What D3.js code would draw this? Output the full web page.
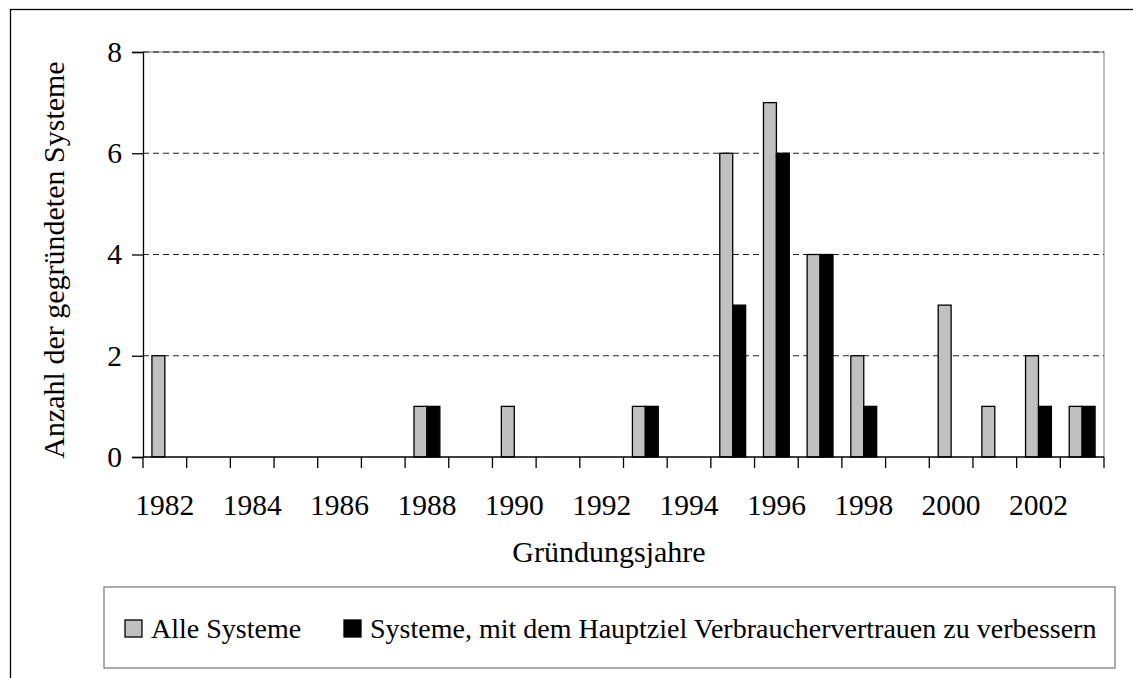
<!DOCTYPE HTML>
<html lang="de">
	<head>
		<title>Gründungsjahre</title>
		<style type="text/css">
			body {
				margin: 0;
				background-color: rgb(255, 255, 255);
			}
			svg text {
				font-family: "Liberation Serif", "Times New Roman", serif;
				fill: black;
			}
		</style>
		<script src="https://d3js.org/d3.v7.min.js"></script>
	</head>
	<body>
		<div id="display"></div>
		<script>

			// data
			var years = ["1982","1983","1984","1985","1986","1987","1988","1989","1990","1991","1992",
			             "1993","1994","1995","1996","1997","1998","1999","2000","2001","2002","2003"];
			var alleSysteme = [2,0,0,0,0,0,1,0,1,0,0,1,0,6,7,4,2,0,3,1,2,1];
			var hauptziel   = [0,0,0,0,0,0,1,0,0,0,0,1,0,3,6,4,1,0,0,0,1,1];
			var seriesNames = ["Alle Systeme", "Systeme, mit dem Hauptziel Verbrauchervertrauen zu verbessern"];
			var seriesColors = ["#c0c0c0", "#000000"];
			var yTicks = [0, 2, 4, 6, 8];
			var xLabels = ["1982","1984","1986","1988","1990","1992","1994","1996","1998","2000","2002"];

			var width = 1133, height = 678;
			var plot = {left: 143, top: 52, right: 1104, bottom: 457};
			var tickFont = 29.5, titleFont = 30, legendFont = 28;

			var svg = d3.select("#display").append("svg")
				.attr("width", width)
				.attr("height", height);

			// outer frame (only top and left edges are visible)
			svg.append("rect")
				.attr("x", 10.5).attr("y", 9.5)
				.attr("width", 1200).attr("height", 800)
				.attr("fill", "none")
				.attr("stroke", "#000")
				.attr("stroke-width", 1.3);

			var x = d3.scaleBand()
				.domain(years)
				.range([plot.left, plot.right])
				.paddingInner(0).paddingOuter(0);

			var x1 = d3.scaleBand()
				.domain([0, 1])
				.range([0, x.bandwidth()])
				.paddingInner(0)
				.paddingOuter(0.69);

			var y = d3.scaleLinear()
				.domain([0, 8])
				.range([plot.bottom, plot.top]);

			// plot border, grey on top and right
			svg.append("path")
				.attr("d", "M" + plot.left + "," + plot.top + "H" + plot.right + "V" + plot.bottom)
				.attr("fill", "none")
				.attr("stroke", "#9a9a9a")
				.attr("stroke-width", 1.3);

			// dashed gridlines
			svg.append("g")
				.selectAll("line")
				.data(yTicks.filter(function(d) { return d > 0; }))
				.join("line")
				.attr("x1", plot.left)
				.attr("x2", plot.right)
				.attr("y1", function(d) { return y(d); })
				.attr("y2", function(d) { return y(d); })
				.attr("stroke", "#222")
				.attr("stroke-width", 1.1)
				.attr("stroke-dasharray", "6,4");

			// bars
			var series = [alleSysteme, hauptziel];
			series.forEach(function(vals, s) {
				svg.append("g")
					.selectAll("rect")
					.data(years.map(function(yr, i) { return {year: yr, value: vals[i]}; })
						.filter(function(d) { return d.value > 0; }))
					.join("rect")
					.attr("x", function(d) { return x(d.year) + x1(s); })
					.attr("width", x1.bandwidth())
					.attr("y", function(d) { return y(d.value); })
					.attr("height", function(d) { return y(0) - y(d.value); })
					.attr("fill", seriesColors[s])
					.attr("stroke", "#000")
					.attr("stroke-width", 1.3);
			});

			// y axis
			var yAxis = svg.append("g")
				.attr("transform", "translate(" + plot.left + ",0)")
				.call(d3.axisLeft(y).tickValues(yTicks).tickSize(11).tickPadding(10));
			yAxis.attr("font-family", null).attr("font-size", null);
			yAxis.select(".domain").attr("stroke-width", 1.3);
			yAxis.selectAll(".tick line").attr("stroke-width", 1.3);
			yAxis.selectAll("text")
				.style("font-size", tickFont + "px");

			// x axis: ticks on category borders, labels every second year
			var xAxis = svg.append("g")
				.attr("transform", "translate(0," + plot.bottom + ")");
			xAxis.append("line")
				.attr("x1", plot.left).attr("x2", plot.right)
				.attr("stroke", "#000").attr("stroke-width", 1.3);
			xAxis.selectAll("line.tick")
				.data(years.concat(["end"]))
				.join("line")
				.attr("class", "tick")
				.attr("x1", function(d) { return d == "end" ? plot.right : x(d); })
				.attr("x2", function(d) { return d == "end" ? plot.right : x(d); })
				.attr("y1", 0).attr("y2", 11)
				.attr("stroke", "#000").attr("stroke-width", 1.3);
			xAxis.selectAll("text")
				.data(xLabels)
				.join("text")
				.attr("x", function(d) { return x(d) + x.bandwidth() / 2; })
				.attr("y", 58)
				.attr("text-anchor", "middle")
				.style("font-size", tickFont + "px")
				.text(function(d) { return d; });

			// axis titles
			svg.append("text")
				.attr("x", 609)
				.attr("y", 562)
				.attr("text-anchor", "middle")
				.style("font-size", titleFont + "px")
				.text("Gründungsjahre");

			svg.append("text")
				.attr("transform", "translate(64,260) rotate(-90)")
				.attr("text-anchor", "middle")
				.style("font-size", titleFont + "px")
				.text("Anzahl der gegründeten Systeme");

			// legend
			var legend = svg.append("g");
			legend.append("rect")
				.attr("x", 104).attr("y", 587)
				.attr("width", 1011).attr("height", 81)
				.attr("fill", "#fff")
				.attr("stroke", "#808080")
				.attr("stroke-width", 1.3);
			var legendX = [125, 344];
			seriesNames.forEach(function(name, s) {
				legend.append("rect")
					.attr("x", legendX[s]).attr("y", 620)
					.attr("width", 17).attr("height", 17)
					.attr("fill", seriesColors[s])
					.attr("stroke", "#000")
					.attr("stroke-width", 1.3);
				legend.append("text")
					.attr("x", legendX[s] + 26)
					.attr("y", 638)
					.style("font-size", legendFont + "px")
					.text(name);
			});

		</script>
	</body>
</html>
